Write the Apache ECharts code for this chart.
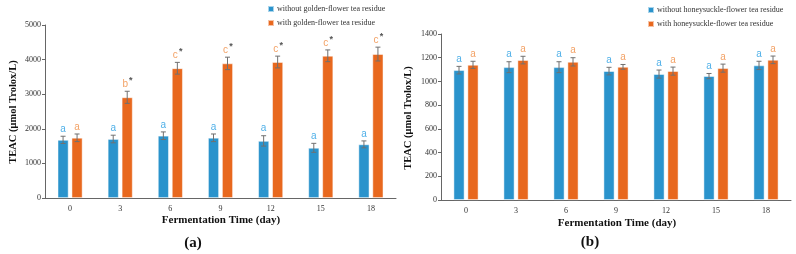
<!DOCTYPE html>
<html>
<head>
<meta charset="utf-8">
<script src="https://cdn.jsdelivr.net/npm/echarts@6/dist/echarts.min.js"></script>
<style>
html, body { margin: 0; padding: 0; background: #fff; }
#main { width: 796px; height: 254px; }
</style>
</head>
<body>
<div id="main"></div>
<script>
// fermentation days
var days = ['0', '3', '6', '9', '12', '15', '18'];

// (a) golden-flower
var goldWithout = [1680, 1705, 1800, 1740, 1650, 1450, 1550];
var goldWithoutErr = [105, 110, 110, 110, 150, 130, 100];
var goldWithoutSig = ['a', 'a', 'a', 'a', 'a', 'a', 'a'];
var goldWith = [1740, 2910, 3750, 3890, 3930, 4110, 4160];
var goldWithErr = [110, 175, 170, 180, 170, 170, 200];
var goldWithSig = ['a', 'b*', 'c*', 'c*', 'c*', 'c*', 'c*'];

// (b) honeysuckle-flower
var honeyWithout = [1095, 1120, 1120, 1087, 1062, 1045, 1135];
var honeyWithoutErr = [32, 46, 46, 32, 34, 22, 35];
var honeyWithoutSig = ['a', 'a', 'a', 'a', 'a', 'a', 'a'];
var honeyWith = [1140, 1180, 1165, 1123, 1087, 1112, 1182];
var honeyWithErr = [30, 32, 35, 20, 34, 34, 32];
var honeyWithSig = ['a', 'a', 'a', 'a', 'a', 'a', 'a'];

var BLUE = '#2a93cc';
var ORANGE = '#e8681e';
var BLUE_TXT = '#4fb0e8';
var ORANGE_TXT = '#f3a266';
var SERIF = '"Liberation Serif", "DejaVu Serif", serif';

var errData = function(vals, errs, sig) {
    var out = [];
    for (var i = 0; i < vals.length; i++) {
        out.push([i, vals[i], errs[i], sig[i]]);
    }
    return out;
};

var makeErr = function(name, gi, vals, errs, sig, offset, txtColor) {
    return {
        type: 'custom',
        name: name + '-err',
        xAxisIndex: gi,
        yAxisIndex: gi,
        z: 5,
        data: errData(vals, errs, sig),
        encode: { x: 0, y: 1 },
        renderItem: function(params, api) {
            var idx = api.value(0);
            var v = api.value(1);
            var e = api.value(2);
            var s = sig[params.dataIndex];
            var x = api.coord([idx, v])[0] + offset;
            var hi = api.coord([idx, v + e])[1];
            var lo = api.coord([idx, v - e])[1];
            var ls = { stroke: '#707070', lineWidth: 1 };
            var kids = [
                { type: 'line', shape: { x1: x, y1: hi, x2: x, y2: lo }, style: ls },
                { type: 'line', shape: { x1: x - 2.5, y1: hi, x2: x + 2.5, y2: hi }, style: ls },
                { type: 'line', shape: { x1: x - 2.5, y1: lo, x2: x + 2.5, y2: lo }, style: ls }
            ];
            var letter = s.charAt(0);
            var star = s.length > 1;
            kids.push({
                type: 'text',
                style: {
                    text: letter, x: star ? x - 2 : x, y: hi - 2,
                    fill: txtColor, font: '10px "Liberation Sans", Arial, sans-serif',
                    align: 'center', verticalAlign: 'bottom'
                }
            });
            if (star) {
                kids.push({
                    type: 'text',
                    style: {
                        text: '*', x: x + 3.5, y: hi - 6,
                        fill: '#555', font: 'bold 9px "Liberation Sans", Arial, sans-serif',
                        align: 'center', verticalAlign: 'bottom'
                    }
                });
            }
            return { type: 'group', children: kids };
        }
    };
};

var makeBar = function(name, gi, vals, color) {
    return {
        type: 'bar',
        name: name,
        xAxisIndex: gi,
        yAxisIndex: gi,
        data: vals,
        barWidth: 11,
        barGap: '27%',
        itemStyle: { color: color, borderColor: 'rgba(255,255,255,0.6)', borderWidth: 0.8 }
    };
};

var xAx = function(gi) {
    return {
        type: 'category',
        gridIndex: gi,
        data: days,
        axisLine: { lineStyle: { color: '#666', width: 1 } },
        axisTick: { show: false },
        axisLabel: { color: '#333', fontFamily: SERIF, fontSize: 8, margin: 7 }
    };
};

var yAx = function(gi, max, step) {
    return {
        type: 'value',
        gridIndex: gi,
        min: 0,
        max: max,
        interval: step,
        splitLine: { show: false },
        axisLine: { show: true, lineStyle: { color: '#666', width: 1 } },
        axisTick: { show: true, length: 3, lineStyle: { color: '#666' } },
        axisLabel: {
            color: '#333', fontFamily: SERIF, fontSize: 8, margin: 4,
            formatter: function(v) { return String(v); }
        }
    };
};

var legend = function(left, top, names) {
    return {
        orient: 'vertical',
        left: left,
        top: top,
        itemWidth: 6,
        itemHeight: 6,
        itemGap: 6,
        icon: 'rect',
        data: names,
        textStyle: { fontFamily: SERIF, fontSize: 8, color: '#333', padding: [0, 0, 0, -2] }
    };
};

var titleText = function(x, y, text, rot, size) {
    return {
        type: 'text',
        x: x, y: y,
        rotation: rot || 0,
        style: {
            text: text, fill: '#111', align: 'center', verticalAlign: 'middle',
            font: 'bold ' + (size || 11) + 'px ' + SERIF
        }
    };
};

var gA1 = 'without golden-flower tea residue';
var gA2 = 'with golden-flower tea residue';
var hB1 = 'without honeysuckle-flower tea residue';
var hB2 = 'with honeysuckle-flower tea residue';

var option = {
    animation: false,
    backgroundColor: '#fff',
    grid: [
        { left: 45, top: 25, width: 351, height: 173 },
        { left: 441, top: 34, width: 350, height: 166 }
    ],
    legend: [legend(262, 0, [gA1, gA2]), legend(642, 1, [hB1, hB2])],
    xAxis: [xAx(0), xAx(1)],
    yAxis: [yAx(0, 5000, 1000), yAx(1, 1400, 200)],
    graphic: [
        titleText(13, 112, 'TEAC (μmol Trolox/L)', Math.PI / 2, 10.5),
        titleText(408, 118, 'TEAC (μmol Trolox/L)', Math.PI / 2, 10.5),
        titleText(221, 220, 'Fermentation Time (day)'),
        titleText(617, 223, 'Fermentation Time (day)'),
        {
            type: 'text', x: 193, y: 243,
            style: { text: '(a)', fill: '#111', align: 'center', verticalAlign: 'middle', font: 'bold 15px ' + SERIF }
        },
        {
            type: 'text', x: 590, y: 242,
            style: { text: '(b)', fill: '#111', align: 'center', verticalAlign: 'middle', font: 'bold 15px ' + SERIF }
        }
    ],
    series: [
        makeBar(gA1, 0, goldWithout, BLUE),
        makeBar(gA2, 0, goldWith, ORANGE),
        makeErr(gA1, 0, goldWithout, goldWithoutErr, goldWithoutSig, -7, BLUE_TXT),
        makeErr(gA2, 0, goldWith, goldWithErr, goldWithSig, 7, ORANGE_TXT),
        makeBar(hB1, 1, honeyWithout, BLUE),
        makeBar(hB2, 1, honeyWith, ORANGE),
        makeErr(hB1, 1, honeyWithout, honeyWithoutErr, honeyWithoutSig, -7, BLUE_TXT),
        makeErr(hB2, 1, honeyWith, honeyWithErr, honeyWithSig, 7, ORANGE_TXT)
    ]
};

var myChart = echarts.init(document.getElementById('main'));
myChart.setOption(option);
</script>
</body>
</html>
